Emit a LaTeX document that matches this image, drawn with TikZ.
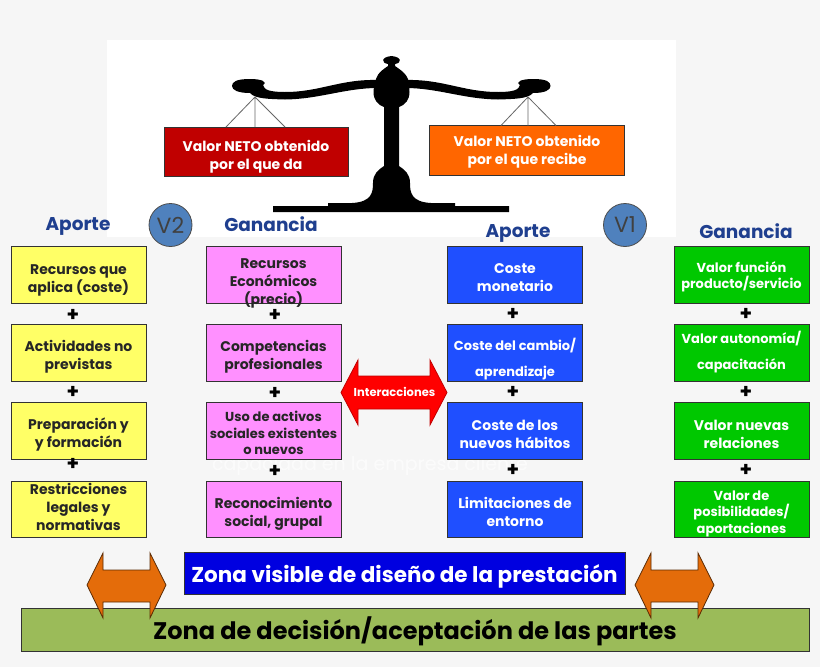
\documentclass[tikz,border=0pt]{standalone}
\usepackage{fontspec}
\setmainfont{Poppins}
\definecolor{bgc}{HTML}{F6F6F6}
\definecolor{navy}{HTML}{1F3F8F}
\definecolor{ye}{HTML}{FFFF66}
\definecolor{pk}{HTML}{FF90FF}
\definecolor{bl}{HTML}{1F4FFF}
\definecolor{gr}{HTML}{00C800}
\definecolor{circ}{HTML}{4F81BD}
\definecolor{org}{HTML}{E46C0A}
\definecolor{olive}{HTML}{9BBB59}
\definecolor{redb}{HTML}{C00000}
\definecolor{orab}{HTML}{FF6600}
\definecolor{zblue}{HTML}{0000E0}
\tikzset{x=1pt,y=-1pt,
 card/.style={draw=black!80,line width=.9pt,minimum width=135pt,minimum height=56.5pt,inner sep=0pt},
 yc/.style={card,fill=ye},
 pc/.style={card,fill=pk},
 bc/.style={card,fill=bl},
 gc/.style={card,fill=gr},
 dk/.style={align=center,inner sep=0pt,text=black!85,font=\fontsize{14}{18}\selectfont\bfseries},
 lt/.style={align=center,inner sep=0pt,text=white,font=\fontsize{14}{18}\selectfont\bfseries},
 sm/.style={font=\fontsize{13}{16.5}\selectfont\bfseries},
 wd/.style={font=\fontsize{13}{26}\selectfont\bfseries},
 hd/.style={text=navy,font=\fontsize{18.5}{20}\selectfont\bfseries},
 plusm/.style={text=black,font=\fontsize{20}{20}\selectfont\bfseries,inner sep=0pt},
 vc/.style={circle,draw=black!70,fill=circ,line width=.8pt,minimum size=43pt,inner sep=0pt,text=black!75,font=\fontsize{22}{24}\selectfont},
 str/.style={draw=black!60,line width=.8pt},
 bar/.style={draw=black!80,line width=.8pt,inner sep=0pt},
 dbl/.style={draw=black!60!org,fill=org,line width=.8pt}}
\begin{document}
\begin{tikzpicture}
\useasboundingbox (0,0) rectangle (820,667);
\fill[bgc] (0,0) rectangle (820,667);
\fill[white] (107,40) rectangle (676,237);
\coordinate (la) at (255,97); \coordinate (ra) at (528,97);
\node[draw=black!80,fill=redb,minimum width=184pt,minimum height=49pt,inner sep=0pt,label={[lt,yshift=-5pt]center:{Valor NETO obtenido\\por el que da}}] (vd) at (256,151.5) {};
\node[draw=black!80,fill=orab,minimum width=195pt,minimum height=50pt,inner sep=0pt,label={[lt,yshift=-1pt]center:{Valor NETO obtenido\\por el que recibe}}] (vr) at (527,150.5) {};
\draw[str] (la) -- (226,127) (la) -- (255,127) (la) -- (285,127);
\draw[str] (ra) -- (501,125.5) (ra) -- (528,125.5) (ra) -- (556,125.5);
% scale
\fill[black] (273,206) -- (328,206) -- (328,203) -- (352,203) .. controls (372,202) and (373,192) .. (373,183)
 .. controls (373,174) and (378,170) .. (384,166) -- (384,107) .. controls (378,105) and (373.5,100) .. (373.5,92)
 .. controls (373.5,85) and (376,82) .. (376,79) .. controls (378,72) and (384,69) .. (388,66) -- (388,64)
 .. controls (381,63) and (381,57) .. (391.5,56) .. controls (402,57) and (402,63) .. (395,64) -- (395,66)
 .. controls (399,69) and (405,72) .. (408,79) .. controls (408,82) and (409.5,85) .. (409.5,92)
 .. controls (409.5,100) and (405,105) .. (399,107) -- (399,166) .. controls (405,170) and (410,174) .. (410,183)
 .. controls (410,192) and (411,202) .. (431,203) -- (455,203) -- (455,206) -- (509,206) -- (509,212) -- (273,212) -- cycle;
\fill[black] (378,80) .. controls (340,79) and (320,92) .. (285,92) .. controls (270,92) and (264,90) .. (263,85)
 .. controls (268,82) and (262,79) .. (250,79) .. controls (236,79) and (232,82) .. (232,86) .. controls (232,90) and (238,93) .. (250,93)
 .. controls (255,99) and (270,99) .. (285,99.5) .. controls (320,99) and (345,88) .. (378,88) -- cycle;
\fill[black] (405,80) .. controls (443,79) and (463,92) .. (498,92) .. controls (513,92) and (519,90) .. (520,85)
 .. controls (515,82) and (521,79) .. (533,79) .. controls (547,79) and (550.5,82) .. (550.5,86) .. controls (550.5,90) and (545,93) .. (533,93)
 .. controls (528,99) and (513,99) .. (498,99.5) .. controls (463,99) and (438,88) .. (405,88) -- cycle;
% headers
\node[hd] (h1) at (78,226) {Aporte};
\node[hd] (h2) at (271,224) {Ganancia};
\node[hd] (h3) at (518,233) {Aporte};
\node[hd] (h4) at (746,231) {Ganancia};
\node[vc] (v2) at (170.5,225) {V2};
\node[vc] (v1) at (625,225) {V1};
\node[text=white,opacity=.65,font=\fontsize{19}{20}\selectfont] (faint) at (370,466) {capacidad en la empresa cliente};
% cards
\node[yc,label={[dk,yshift=-5pt]center:{Recursos que\\aplica (coste)}}] (y1) at (78.5,275) {};
\node[yc,label={[dk,yshift=-4pt]center:{Actividades no\\previstas}}] (y2) at (78.5,353) {};
\node[yc,label={[dk,yshift=-4pt]center:{Preparación y\\y formación}}] (y3) at (78.5,431) {};
\node[yc,label={[dk,yshift=3pt]center:{Restricciones\\legales y\\normativas}}] (y4) at (78.5,509.5) {};
\node[pc,label={[dk,yshift=-8pt]center:{Recursos\\Económicos\\(precio)}}] (p1) at (273.5,275) {};
\node[pc,label={[dk,yshift=-4pt]center:{Competencias\\profesionales}}] (p2) at (273.5,353) {};
\node[pc,label={[dk,sm,yshift=-2pt]center:{Uso de activos\\sociales existentes\\o nuevos}}] (p3) at (273.5,431) {};
\node[pc,label={[dk,yshift=-4pt]center:{Reconocimiento\\social, grupal}}] (p4) at (273.5,509.5) {};
\node[bc,label={[lt,yshift=-3pt]center:{Coste\\monetario}}] (b1) at (515,275) {};
\node[bc,label={[lt,wd,yshift=-6pt]center:{Coste del cambio/\\aprendizaje}}] (b2) at (515,353) {};
\node[bc,label={[lt,yshift=-3pt]center:{Coste de los\\nuevos hábitos}}] (b3) at (515,431) {};
\node[bc,label={[lt,yshift=-2pt]center:{Limitaciones de\\entorno}}] (b4) at (515,509.5) {};
\node[gc,label={[lt,sm,yshift=-2pt]center:{Valor función\\producto/servicio}}] (g1) at (741.5,275) {};
\node[gc,label={[lt,wd,yshift=1pt]center:{Valor autonomía/\\capacitación}}] (g2) at (741.5,353) {};
\node[gc,label={[lt,yshift=-3pt]center:{Valor nuevas\\relaciones}}] (g3) at (741.5,431) {};
\node[gc,label={[lt,sm,yshift=-4pt]center:{Valor de\\posibilidades/\\aportaciones}}] (g4) at (741.5,509.5) {};
% plus
\node[plusm] (a1) at (73,315) {+}; \node[plusm] (a2) at (73,392) {+}; \node[plusm] (a3) at (73,464) {+};
\node[plusm] (a4) at (275,315) {+}; \node[plusm] (a5) at (275,393) {+}; \node[plusm] (a6) at (275,471) {+};
\node[plusm] (a7) at (513,314) {+}; \node[plusm] (a8) at (513,392) {+}; \node[plusm] (a9) at (513,470) {+};
\node[plusm] (a10) at (746,314) {+}; \node[plusm] (a11) at (746,392) {+}; \node[plusm] (a12) at (746,470) {+};
% interaction arrow
\draw[draw=redb,fill=red,line width=.8pt] (341,392.5) -- (358,360) -- (358,376) -- (430,376) -- (430,360) -- (447,392.5) -- (430,425) -- (430,409) -- (358,409) -- (358,425) -- cycle;
\node[text=white,font=\fontsize{11.5}{12}\selectfont\bfseries] (inter) at (394.5,392) {Interacciones};
% bars
\node[bar,fill=olive,minimum width=788pt,minimum height=43pt,label={[inner sep=0pt,yshift=-2pt,text=black,font=\fontsize{24}{26}\selectfont\bfseries]center:{Zona de decisión/aceptación de las partes}}] (zd) at (415,629.5) {};
\node[bar,fill=zblue,minimum width=441pt,minimum height=42pt,label={[inner sep=0pt,yshift=-3pt,text=white,font=\fontsize{21.5}{24}\selectfont\bfseries]center:{Zona visible de diseño de la prestación}}] (zv) at (404.5,573) {};
\draw[dbl] (87,585) -- (103,553) -- (103,570) -- (150,570) -- (150,553) -- (166,585) -- (150,618) -- (150,602) -- (103,602) -- (103,618) -- cycle;
\draw[dbl] (635,585) -- (651,553) -- (651,570) -- (698,570) -- (698,553) -- (714,585) -- (698,618) -- (698,602) -- (651,602) -- (651,618) -- cycle;
\end{tikzpicture}
\end{document}
